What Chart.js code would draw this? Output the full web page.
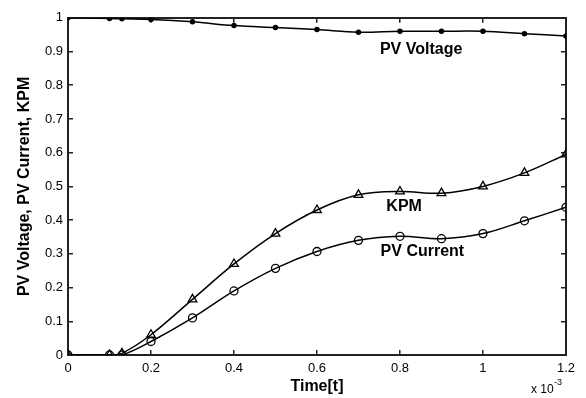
<!DOCTYPE html>
<html>
<head>
<meta charset="utf-8">
<script src="https://cdn.jsdelivr.net/npm/chart.js@4/dist/chart.umd.min.js"></script>
</head>
<body style="margin:0">
<canvas id="c" width="586" height="398"></canvas>
<script>
// ---- data ----
const timeValues   = [0, 0.1, 0.13, 0.2, 0.3, 0.4, 0.5, 0.6, 0.7, 0.8, 0.9, 1.0, 1.1, 1.2];
const pvVoltage    = [1.0, 0.998, 0.997, 0.995, 0.988, 0.977, 0.971, 0.965, 0.957, 0.96, 0.96, 0.96, 0.953, 0.946];
const kpm          = [0, 0, 0.005, 0.06, 0.165, 0.27, 0.36, 0.43, 0.475, 0.485, 0.48, 0.5, 0.54, 0.595];
const pvCurrent    = [0, 0, 0, 0.04, 0.11, 0.19, 0.257, 0.307, 0.34, 0.352, 0.345, 0.36, 0.398, 0.438];
const xTickValues  = [0, 0.2, 0.4, 0.6, 0.8, 1, 1.2];
const xTickLabels  = ["0", "0.2", "0.4", "0.6", "0.8", "1", "1.2"];
const yTickValues  = [0, 0.1, 0.2, 0.3, 0.4, 0.5, 0.6, 0.7, 0.8, 0.9, 1];
const yTickLabels  = ["0", "0.1", "0.2", "0.3", "0.4", "0.5", "0.6", "0.7", "0.8", "0.9", "1"];
const seriesNames  = ["PV Voltage", "KPM", "PV Current"];
// curve labels, in data coordinates
const curveLabelText = ["PV Voltage", "KPM", "PV Current"];
const curveLabelX    = [0.851, 0.81, 0.854];
const curveLabelY    = [0.906, 0.439, 0.307];
const xTitle = "Time[t]";
const yTitle = "PV Voltage, PV Current, KPM";

const pts = arr => timeValues.map((t, i) => ({x: t, y: arr[i]}));

const FONT = '"Liberation Sans", Arial, sans-serif';
const INK = '#222222';

const labelPlugin = {
  id: 'curveLabels',
  afterDraw(chart) {
    const ctx = chart.ctx, a = chart.chartArea;
    const xs = chart.scales.x, ys = chart.scales.y;
    ctx.save();
    ctx.fillStyle = '#000';
    ctx.font = 'bold 16px ' + FONT;
    ctx.textAlign = 'center';
    ctx.textBaseline = 'middle';
    curveLabelText.forEach((txt, i) => {
      ctx.fillText(txt, xs.getPixelForValue(curveLabelX[i]), ys.getPixelForValue(curveLabelY[i]));
    });
    ctx.font = '12px ' + FONT;
    ctx.textAlign = 'left';
    ctx.fillText('x 10', a.right - 35, 390);
    ctx.font = '9px ' + FONT;
    ctx.fillText('-3', a.right - 12, 383);
    ctx.restore();
  }
};

const mkGrid = () => ({display: true, drawOnChartArea: false, drawTicks: true, tickLength: -5, tickColor: INK, tickWidth: 1.5, color: INK, lineWidth: 1.5});
const mkBorder = () => ({display: true, color: INK, width: 2});

new Chart(document.getElementById('c'), {
  type: 'line',
  data: {
    datasets: [
      {
        label: seriesNames[0], data: pts(pvVoltage),
        borderColor: '#000', borderWidth: 1.5, tension: 0.35,
        pointStyle: 'circle', pointRadius: 2, pointBackgroundColor: '#000', pointBorderColor: '#000'
      },
      {
        label: seriesNames[1], data: pts(kpm),
        borderColor: '#000', borderWidth: 1.5, tension: 0.35,
        pointStyle: 'triangle', pointRadius: 5, pointBackgroundColor: 'rgba(255,255,255,0)', pointBorderColor: '#000', pointBorderWidth: 1.3
      },
      {
        label: seriesNames[2], data: pts(pvCurrent),
        borderColor: '#000', borderWidth: 1.5, tension: 0.35,
        pointStyle: 'circle', pointRadius: 4, pointBackgroundColor: 'rgba(255,255,255,0)', pointBorderColor: '#000', pointBorderWidth: 1.3
      }
    ]
  },
  options: {
    responsive: false,
    animation: false,
    layout: {padding: {left: 0, right: 17, top: 10, bottom: 0}},
    plugins: {legend: {display: false}, tooltip: {enabled: false}},
    scales: {
      x: {
        type: 'linear', position: 'bottom', min: 0, max: 1.2,
        grid: mkGrid(), border: mkBorder(),
        afterBuildTicks: s => { s.ticks = xTickValues.map(v => ({value: v})); },
        afterFit: s => { s.height = 43; },
        ticks: {
          color: '#000', padding: 11,
          font: {family: FONT, size: 13},
          callback: (v) => { const i = xTickValues.indexOf(v); return i >= 0 ? xTickLabels[i] : ''; }
        },
        title: {display: true, text: xTitle, color: '#000',
          font: {family: FONT, size: 16, weight: 'bold'},
          padding: {top: 0, bottom: 2}}
      },
      x2: {
        type: 'linear', position: 'top', min: 0, max: 1.2,
        grid: mkGrid(), border: mkBorder(),
        afterBuildTicks: s => { s.ticks = xTickValues.map(v => ({value: v})); },
        afterFit: s => { s.height = 0; },
        ticks: {display: false}
      },
      y: {
        type: 'linear', position: 'left', min: 0, max: 1,
        grid: mkGrid(), border: mkBorder(),
        afterBuildTicks: s => { s.ticks = yTickValues.map(v => ({value: v})); },
        afterFit: s => { s.width = 68; },
        ticks: {
          color: '#000', padding: 10,
          font: {family: FONT, size: 13},
          callback: (v) => { const i = yTickValues.findIndex(t => Math.abs(t - v) < 1e-9); return i >= 0 ? yTickLabels[i] : ''; }
        },
        title: {display: true, text: yTitle, color: '#000',
          font: {family: FONT, size: 16, weight: 'bold'},
          padding: {top: 15, bottom: 0}}
      },
      y2: {
        type: 'linear', position: 'right', min: 0, max: 1,
        grid: mkGrid(), border: mkBorder(),
        afterBuildTicks: s => { s.ticks = yTickValues.map(v => ({value: v})); },
        afterFit: s => { s.width = 0; },
        ticks: {display: false}
      }
    }
  },
  plugins: [labelPlugin]
});
</script>
</body>
</html>
